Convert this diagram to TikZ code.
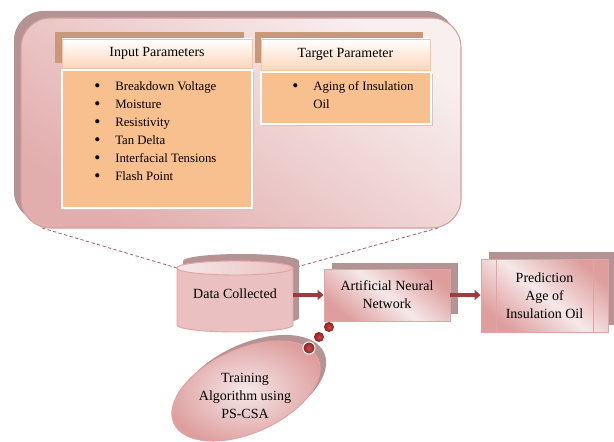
\documentclass[tikz,border=0pt]{standalone}
\usepackage{fontspec}
\setmainfont{Liberation Serif}
\usetikzlibrary{calc,arrows.meta,shapes.geometric}
\definecolor{shadowc}{HTML}{B39393}
\definecolor{panelborder}{HTML}{D99C9C}
\definecolor{panellight}{HTML}{F8EFEF}
\definecolor{paneldark}{HTML}{E2ADAD}
\definecolor{tanc}{HTML}{C9977A}
\definecolor{peach}{HTML}{F8BF8F}
\definecolor{peachlight}{HTML}{FCD6BA}
\definecolor{peachborder}{HTML}{F7C3A0}
\definecolor{pinkdark}{HTML}{DE9E9E}
\definecolor{pinkmid}{HTML}{EAC0C0}
\definecolor{pinklight}{HTML}{F6E8E8}
\definecolor{boxborder}{HTML}{E3A3A3}
\definecolor{arrowred}{HTML}{A3393B}
\definecolor{dashc}{HTML}{9E6262}
\definecolor{dotin}{HTML}{C94A4A}
\definecolor{dotout}{HTML}{8E1F21}
\definecolor{listshadow}{HTML}{CFC6C6}
\newcommand\pxu{0.75pt}
\newcommand\bul{\makebox[15pt][l]{\hspace{-0.6pt}\raisebox{-0.7pt}{\fontsize{13}{13}\selectfont •}}}
\begin{document}
\begin{tikzpicture}[x=0.75pt,y=-0.75pt,
  font=\fontsize{10.5}{13.5}\selectfont,
  shadowbox/.style={fill=shadowc, draw=none, inner sep=0pt},
  tanbox/.style={fill=tanc, draw=none, inner sep=0pt},
  hdrbox/.style={draw=peachborder, line width=0.6pt, top color=white, bottom color=peachlight, inner sep=0pt},
  listbox/.style={fill=peach, draw=white, line width=1.5pt, inner sep=0pt},
  listshade/.style={fill=listshadow, draw=none, inner sep=0pt},
  pinkbox/.style={draw=boxborder, line width=0.7pt, top color=pinkdark, bottom color=pinkdark, middle color=pinklight, shading angle=-40, inner sep=0pt, align=center},
  dashline/.style={draw=dashc, dash pattern=on 2.5pt off 1.8pt, line width=0.6pt},
  bigarrow/.style={draw=arrowred, line width=3.6pt, -{Triangle[length=4.5pt,width=7.5pt]}},
  dot/.style={circle, inner color=dotin, outer color=dotout, draw=none, inner sep=0pt},
  itemtext/.style={anchor=north west, align=left, inner sep=0pt, font=\fontsize{9.6}{13.5}\selectfont}
]
\useasboundingbox (0,0) rectangle (614,442);

% dashed zoom lines
\coordinate (pl) at (42,228);
\coordinate (pr) at (438,228);
\coordinate (cl) at (177,268);
\coordinate (cr) at (293,268);
\draw[dashline] (pl) -- (cl);
\draw[dashline] (pr) -- (cr);

% big panel
\node[shadowbox, rounded corners=22pt, minimum width=441*\pxu, minimum height=210*\pxu] (panelS) at (234.5,116) {};
\node[draw=panelborder, line width=0.8pt, rounded corners=22pt, top color=panellight, bottom color=paneldark, shading angle=-35, inner sep=0pt, minimum width=440*\pxu, minimum height=210*\pxu] (panel) at (241,123) {};

% input parameters
\node[tanbox, minimum width=189*\pxu, minimum height=31*\pxu] (inhdrS) at (149.5,47.5) {};
\node[hdrbox, minimum width=190*\pxu, minimum height=29*\pxu] (inhdr) at (157,53.5) {Input Parameters};
\node[listshade, minimum width=190*\pxu, minimum height=138*\pxu] (inlistS) at (159,141) {};
\node[listbox, minimum width=190*\pxu, minimum height=138*\pxu] (inlist) at (157,139) {};
\node[itemtext] (initems) at (95,81.5) {%
\bul Breakdown Voltage\\
\bul Moisture\\
\bul Resistivity\\
\bul Tan Delta\\
\bul Interfacial Tensions\\
\bul Flash Point};

% target parameter
\node[tanbox, minimum width=168*\pxu, minimum height=31*\pxu] (tghdrS) at (339,47.5) {};
\node[hdrbox, minimum width=169*\pxu, minimum height=31*\pxu] (tghdr) at (345.5,54.5) {Target Parameter};
\node[listshade, minimum width=170*\pxu, minimum height=52*\pxu] (tglistS) at (348,100) {};
\node[listbox, minimum width=170*\pxu, minimum height=52*\pxu] (tglist) at (346,98) {};
\node[itemtext] (tgitems) at (293,81.5) {%
\bul Aging of Insulation\\
\hspace*{15pt}Oil};

% cylinder (data collected)
\path[fill=shadowc] (183,261) -- (183,318) arc[start angle=180,end angle=0,x radius=58,y radius=7]
  -- (299,261) arc[start angle=0,end angle=-180,x radius=58,y radius=7] -- cycle;
\path[draw=boxborder, line width=0.7pt, top color=pinkmid, middle color=pinklight, bottom color=pinkmid, shading angle=-40]
  (177,268) -- (177,325) arc[start angle=180,end angle=0,x radius=58,y radius=7]
  -- (293,268) arc[start angle=0,end angle=-180,x radius=58,y radius=7] -- cycle;
\draw[draw=boxborder, line width=0.7pt, left color=pinklight, right color=pinkmid] (235,268) ellipse[x radius=58, y radius=7];
\node[minimum width=116*\pxu, minimum height=56*\pxu, inner sep=0pt] (data) at (235,294) {Data Collected};

% ANN
\node[shadowbox, minimum width=126*\pxu, minimum height=51*\pxu] (annS) at (395,288) {};
\node[pinkbox, minimum width=126*\pxu, minimum height=52*\pxu] (ann) at (387,295) {Artificial Neural\\Network};

% prediction
\node[shadowbox, minimum width=127*\pxu, minimum height=73*\pxu] (predS) at (552.5,288.5) {};
\node[pinkbox, minimum width=127*\pxu, minimum height=73*\pxu] (pred) at (544.5,295.5) {Prediction\\Age of\\Insulation Oil};
\draw[draw=boxborder, line width=0.7pt] ($(pred.north west)+(16,0)$) -- ($(pred.south west)+(16,0)$);
\draw[draw=boxborder, line width=0.7pt] ($(pred.north east)+(-15,0)$) -- ($(pred.south east)+(-15,0)$);

% arrows
\draw[bigarrow] (data.east |- ann.west) -- (ann.west);
\draw[bigarrow] (ann.east) -- (ann.east -| pred.west);

% training ellipse
\node[shadowbox, ellipse, rotate=24, minimum width=158*\pxu, minimum height=84*\pxu] (trainS) at (252,385) {};
\node[ellipse, rotate=24, draw=boxborder, line width=0.7pt, inner color=pinklight, outer color=pinkdark, inner sep=0pt, minimum width=158*\pxu, minimum height=84*\pxu] (trainshape) at (246,391) {};
\node[align=center, inner sep=0pt] (train) at (245,396) {Training\\Algorithm using\\PS-CSA};

% thought dots
\node[dot, minimum size=10*\pxu] (d1) at (329,327) {};
\node[dot, minimum size=10*\pxu] (d2) at (319,337) {};
\node[dot, draw=white, line width=0.8pt, minimum size=12*\pxu] (d3) at (309,348) {};
\end{tikzpicture}
\end{document}
